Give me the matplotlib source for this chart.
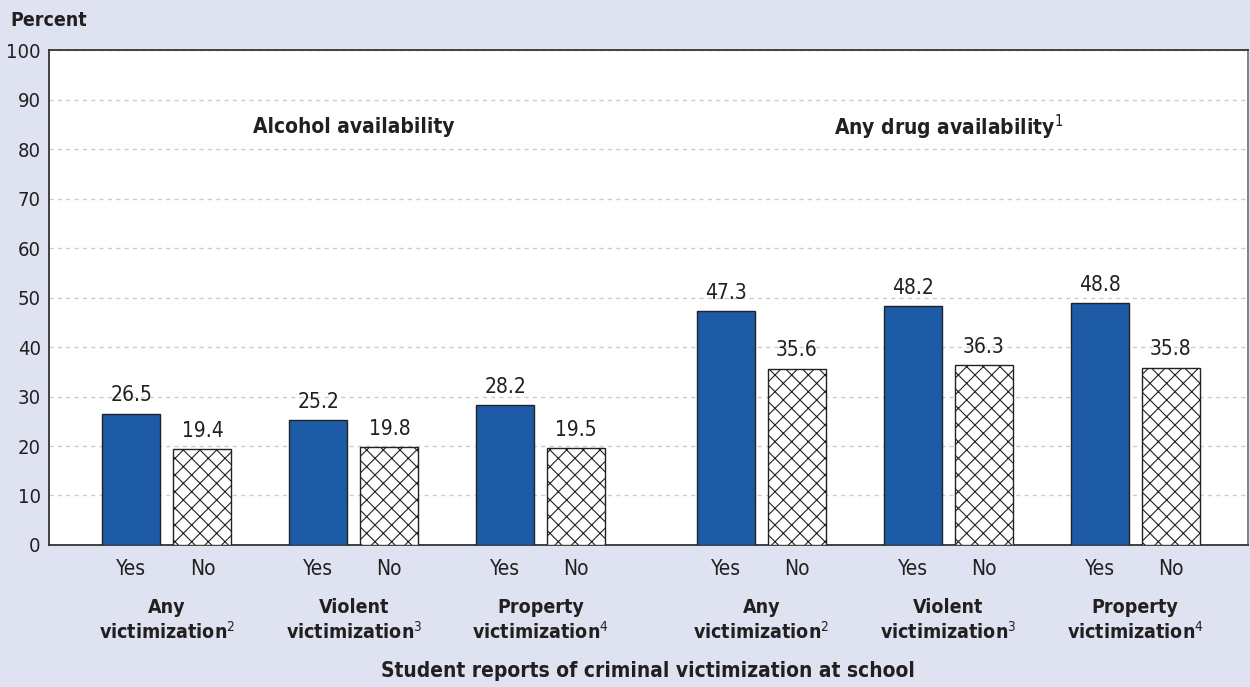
import matplotlib
matplotlib.use("Agg")
import matplotlib.pyplot as plt
import numpy as np

plt.rcParams['font.family'] = ['DejaVu Sans']
plt.rcParams['font.stretch'] = 'condensed'
plt.rcParams['mathtext.fontset'] = 'custom'
plt.rcParams['mathtext.rm'] = 'DejaVu Sans:stretch=condensed'
plt.rcParams['hatch.linewidth'] = 0.8

sections = ['Alcohol availability', 'Any drug availability$^1$']
groups = ['Any\nvictimization$^2$', 'Violent\nvictimization$^3$', 'Property\nvictimization$^4$']
yes_alcohol = [26.5, 25.2, 28.2]
no_alcohol = [19.4, 19.8, 19.5]
yes_drug = [47.3, 48.2, 48.8]
no_drug = [35.6, 36.3, 35.8]

bg = '#dfe3f1'
blue = '#1d5ba6'
ink = '#231f20'

fig = plt.figure(figsize=(12.5, 6.87), dpi=100, facecolor=bg)
ax = fig.add_axes([0.0392, 0.2067, 0.9592, 0.7205])
ax.set_facecolor('white')

gap = 0.18
off = 0.19
w = 0.31
centers = np.array([0, 1, 2, 3 + gap, 4 + gap, 5 + gap])
yes_vals = yes_alcohol + yes_drug
no_vals = no_alcohol + no_drug

ax.bar(centers - off, yes_vals, w, color=blue, edgecolor='#222222', linewidth=1, zorder=3)
ax.bar(centers + off, no_vals, w, color='white', edgecolor='#222222', hatch='xx', linewidth=1, zorder=3)

for x, v in zip(centers - off, yes_vals):
    ax.annotate(f'{v:.1f}', (x, v), xytext=(0, 6), textcoords='offset points',
                ha='center', va='bottom', fontsize=15, color=ink)
for x, v in zip(centers + off, no_vals):
    ax.annotate(f'{v:.1f}', (x, v), xytext=(0, 6), textcoords='offset points',
                ha='center', va='bottom', fontsize=15, color=ink)

ax.set_ylim(0, 100)
ax.set_xlim(-0.631, 5 + gap + 0.604)
ax.set_yticks(range(0, 101, 10))
ax.tick_params(axis='y', length=0, pad=6, labelsize=14.5, colors=ink)

ticks = np.concatenate([centers - off, centers + off])
ax.set_xticks(ticks)
ax.set_xticklabels(['Yes'] * 6 + ['No'] * 6)
ax.tick_params(axis='x', length=0, pad=10, labelsize=15, colors=ink)

ax.yaxis.grid(True, color='#cccccc', linestyle=(0, (3, 3)), linewidth=1, zorder=0)
ax.set_axisbelow(True)
for s in ['left', 'top', 'bottom']:
    ax.spines[s].set_color('#333333')
    ax.spines[s].set_linewidth(1.3)
ax.spines['right'].set_color('#777777')
ax.spines['right'].set_linewidth(1.3)

for i, c in enumerate(centers):
    ax.annotate(groups[i % 3], (c, 0), xycoords=('data', 'axes fraction'),
                xytext=(0, -38), textcoords='offset points', ha='center', va='top',
                fontsize=14, fontweight='bold', color=ink, linespacing=1.25)

for k, sec in enumerate(sections):
    ax.text(centers[3 * k + 1], 84.4, sec, ha='center', va='center',
            fontsize=15, fontweight='bold', color=ink)

fig.text(0.008, 1 - 20 / 687, 'Percent', ha='left', va='center',
         fontsize=14, fontweight='bold', color=ink)
fig.text(648 / 1250, 1 - 671 / 687, 'Student reports of criminal victimization at school',
         ha='center', va='center', fontsize=15, fontweight='bold', color=ink)

fig.savefig('out.png', dpi=100, facecolor=bg)
